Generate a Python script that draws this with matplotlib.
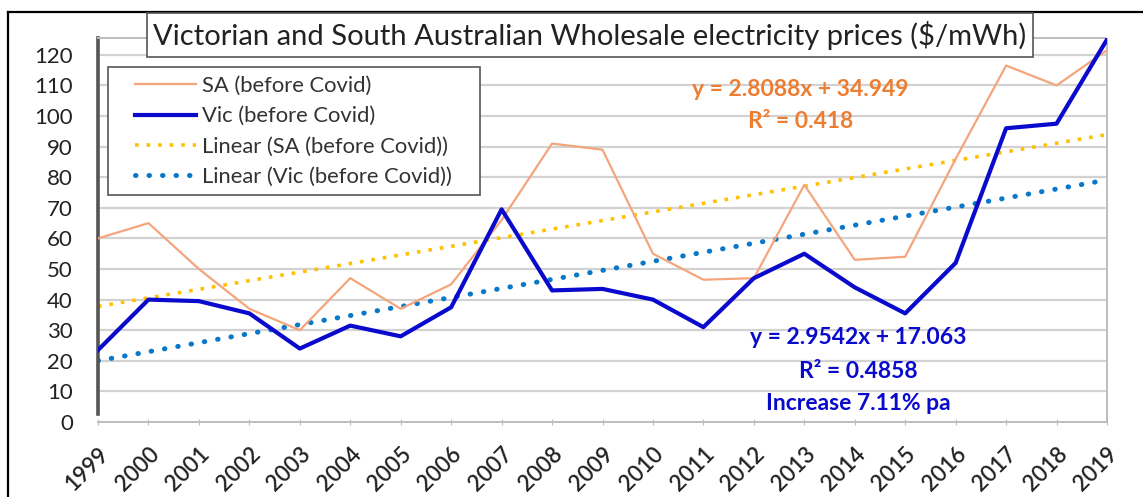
import matplotlib
matplotlib.use("Agg")
import matplotlib.pyplot as plt
from matplotlib.patches import Rectangle
from matplotlib.lines import Line2D
import numpy as np

# Wholesale electricity prices ($/mWh), annual averages
years = list(range(1999, 2020))
sa_prices = [60, 65, 50, 37, 30, 47, 37, 45, 66, 91, 89, 55, 46.5, 47, 77.5, 53, 54, 86, 116.5, 110, 121.5]
vic_prices = [23.5, 40, 39.5, 35.5, 24, 31.5, 28, 37.5, 69.5, 43, 43.5, 40, 31, 47, 55, 44, 35.5, 52, 96, 97.5, 125]

# Linear trend coefficients (x = 1 for 1999)
sa_slope, sa_intercept, sa_r2 = 2.8088, 34.949, 0.418
vic_slope, vic_intercept, vic_r2 = 2.9542, 17.063, 0.4858
vic_growth = "7.11%"

title = "Victorian and South Australian Wholesale electricity prices ($/mWh)"
legend_labels = ["SA (before Covid)", "Vic (before Covid)",
                 "Linear (SA (before Covid))", "Linear (Vic (before Covid))"]

SA_COLOR = "#F4A57C"
VIC_COLOR = "#0A0ACD"
SA_TREND = "#FFC000"
VIC_TREND = "#0A78C8"
SA_TEXT = "#ED7D31"

plt.rcParams["font.family"] = ["Lato", "DejaVu Sans"]

W, H = 1143, 497
fig = plt.figure(figsize=(W / 100, H / 100), dpi=100)

def fx(px):
    return px / W

def fy(py):
    return 1 - py / H

left, right, top, bottom = 98, 1107, 38, 422
YMAX = 125.5
ax = fig.add_axes([fx(left), fy(bottom), fx(right - left), fy(top) - fy(bottom)])

x = np.arange(1, len(years) + 1)
ax.set_xlim(1, len(years))
ax.set_ylim(0, YMAX)

for v in range(10, 130, 10):
    ax.axhline(v, color="#d2d2d2", lw=1.6, zorder=0)

ax.plot(x, sa_prices, color=SA_COLOR, lw=1.6, zorder=3)
ax.plot(x, vic_prices, color=VIC_COLOR, lw=3.0, zorder=4)
ax.plot(x, sa_slope * x + sa_intercept, color=SA_TREND, lw=2.6,
        ls=(0, (1, 2.2)), zorder=2)
ax.plot(x, vic_slope * x + vic_intercept, color=VIC_TREND, lw=3.6,
        ls=(0, (0.1, 2.6)), dash_capstyle="round", zorder=2)

ax.set_yticks(range(0, 130, 10))
ax.tick_params(axis="y", length=0, pad=18, labelsize=16, labelcolor="#222222")
ax.set_xticks(x)
ax.set_xticklabels([str(y) for y in years], rotation=45, ha="right", va="top",
                   rotation_mode="anchor", fontsize=16, fontweight="semibold",
                   color="#222222")
ax.tick_params(axis="x", length=5, direction="inout", color="#bdbdbd", pad=13)

ax.spines["left"].set_color("#555555")
ax.spines["left"].set_linewidth(2.6)
ax.spines["left"].set_bounds(2.5, YMAX)
for s in ("top", "right", "bottom"):
    ax.spines[s].set_color("#bdbdbd")
    ax.spines[s].set_linewidth(1.4)
    ax.spines[s].set_linestyle((0, (2, 1)))

# Trend equations, placed in pixel positions of the figure
def ann(px, py, s, color):
    fig.text(fx(px), fy(py), s, color=color, fontsize=16.5, fontweight="bold",
             ha="center", va="center", zorder=6)

ann(800, 89, f"y = {sa_slope}x + {sa_intercept}", SA_TEXT)
ann(801, 121, f"R² = {sa_r2}", SA_TEXT)
ann(858, 338, f"y = {vic_slope}x + {vic_intercept}", VIC_COLOR)
ann(858, 371, f"R² = {vic_r2}", VIC_COLOR)
ann(858, 404, f"Increase {vic_growth} pa", VIC_COLOR)

# Legend with its own frame
fig.patches.append(Rectangle((fx(108), fy(195)), fx(480 - 108), fy(67) - fy(195),
                             transform=fig.transFigure, facecolor="white",
                             edgecolor="#555555", lw=1.2, zorder=4))
handles = [
    Line2D([], [], color=SA_COLOR, lw=1.6),
    Line2D([], [], color=VIC_COLOR, lw=3.0),
    Line2D([], [], color=SA_TREND, lw=2.6, ls=(0, (1, 2.2))),
    Line2D([], [], color=VIC_TREND, lw=3.6, ls=(0, (0.1, 2.6)), dash_capstyle="round"),
]
leg = fig.legend(handles, legend_labels, loc="upper left",
                 bbox_to_anchor=(fx(135), fy(76)), fontsize=15.8,
                 frameon=False, handlelength=2.8, handletextpad=0.27,
                 labelspacing=0.47, borderpad=0, borderaxespad=0)
leg.set_zorder(5)
for t in leg.get_texts():
    t.set_color("#333333")

# Title box
fig.patches.append(Rectangle((fx(147), fy(57)), fx(1033 - 147), fy(13) - fy(57),
                             transform=fig.transFigure, facecolor="white",
                             edgecolor="#555555", lw=1.2, zorder=5))
fig.text(fx(590), fy(36), title, ha="center", va="center", fontsize=21,
         color="#222222", zorder=6)

# Outer frame
fig.add_artist(Line2D([fx(8), 1], [fy(12), fy(12)], color="black", lw=1.6,
                      transform=fig.transFigure))
fig.add_artist(Line2D([fx(8), fx(8)], [fy(12), 0], color="black", lw=1.6,
                      transform=fig.transFigure))

fig.savefig("out.png", dpi=100)
